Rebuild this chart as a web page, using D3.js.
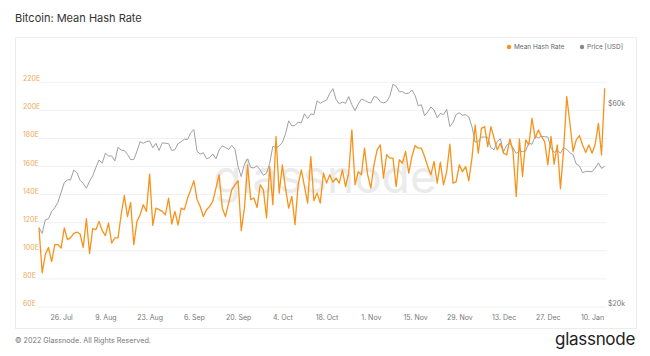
<!DOCTYPE html>
<html><head><meta charset="utf-8">
<script src="https://cdn.jsdelivr.net/npm/d3@7"></script>
<style>
html,body{margin:0;padding:0;background:#fff;}
svg{display:block;font-family:Inter,"Open Sans",sans-serif;}
</style></head><body>
<svg id="c" width="650" height="356"></svg>
<script>
// ---- data (daily, 2021-07-19 .. 2022-01-14) ----
const startDate = "2021-07-19";
const hashRate = [
 116,84,97,102,92,104,104,101.6,116,107.6,109,112,113,111.6,102,122.5,97.6,115.4,114.7,120.6,
 114,110.4,119.4,105.2,108.8,108.8,125.3,139,124,134,104,120.6,125.3,132.4,127.7,154.2,117.7,130,128.9,127.7,
 125.3,137.2,118.7,127.7,118,130,
 129,137,143,149.5,136.2,131.2,124.1,128.9,131.2,134.8,144.3,153.7,130,124,133.6,143,146.6,149.5,114,130,
 160.8,136,137.2,130.5,146.6,143,123,159.6,132.4,181,140.7,160.8,144.3,130,138.4,118.2,146.6,157.3,145.5,133.6,
 166.7,135.3,140.7,
 133.6,154.9,147.8,153.7,148.5,151.4,147.8,157.3,145.4,154.9,185.7,146.6,156,153.7,172.7,153.7,144.3,160.8,171.5,175,
 151.4,168,165.6,165.6,145.4,164.4,162,170.3,154.9,166.8,174.6,172.7,172.7,166.8,159.6,153.7,163.2,147.8,162.7,146.6,
 156,175.5,147.8,148.9,160.8,156,159.6,149.5,
 165.6,189.2,169.1,186.8,188,173.8,188,179.8,171.5,176.2,169.1,167.9,179.3,170.3,138.3,179.3,152.5,178.6,175,194,
 179.8,185.7,181,177.4,160.8,181,161.3,175,143.8,171.5,209.3,190.4,170.3,178.6,181.7,175,169.6,175,169.1,175.5,
 190.4,167.9,215.3
];
const priceUsdK = [
 30.8,29.8,32.1,32.3,33.6,34.3,35.4,37.3,39.4,40.0,40.0,42.2,41.6,
 39.9,39.2,38.2,39.7,40.9,42.8,44.6,43.8,46.3,45.6,45.6,44.4,47.8,47.1,47.0,46.0,44.7,44.7,46.8,49.3,48.9,49.3,49.5,47.7,48.9,47.0,49.0,48.9,48.8,47.0,47.2,
 48.8,49.3,50.0,49.9,51.8,52.7,46.8,46.1,46.4,44.9,45.2,46.1,44.9,47.1,48.2,47.8,47.3,48.3,47.3,43.0,40.7,43.6,44.9,42.8,42.7,43.2,42.2,41.0,41.5,43.8,
 48.1,47.7,48.2,49.1,51.5,55.3,53.8,53.9,54.9,54.7,57.5,56.0,57.4,57.3,61.7,60.9,61.5,62.0,64.3,66.0,62.2,60.7,61.3,60.9,63.2,60.4,58.5,60.6,62.3,61.9,61.3,
 61.0,63.2,62.9,61.4,61.0,61.5,63.3,67.6,66.9,64.9,64.9,64.2,64.4,65.5,63.6,60.1,60.4,56.9,58.1,59.7,58.7,56.3,57.6,57.2,58.9,53.6,54.8,57.3,57.8,57.0,
 57.2,56.5,53.6,49.2,49.4,50.6,50.6,50.5,47.7,47.2,49.4,50.1,46.7,48.4,48.9,47.7,46.2,46.9,46.7,46.9,49.0,48.6,50.8,50.4,50.8,50.7,50.6,47.6,46.5,47.1,46.3,
 47.7,47.3,46.4,45.9,43.6,43.2,41.6,41.9,41.9,41.8,42.7,43.9,42.6,43.1
];
const hashTicks = [60,80,100,120,140,160,180,200,220];
const priceTicks = [20,60];
const dateTicks = ["2021-07-26","2021-08-09","2021-08-23","2021-09-06","2021-09-20","2021-10-04","2021-10-18","2021-11-01","2021-11-15","2021-11-29","2021-12-13","2021-12-27","2022-01-10"];
const seriesNames = ["Mean Hash Rate","Price [USD]"];

// ---- chart ----
const svg = d3.select("#c");
const parse = d3.timeParse("%Y-%m-%d");
const t0 = parse(startDate);
const dates = hashRate.map((_, i) => d3.timeDay.offset(t0, i));
const hashColor = "#f7931a", priceColor = "#a0a0a0";

svg.append("rect").attr("x",0).attr("y",0).attr("width",650).attr("height",356).attr("fill","#fff");
svg.append("rect").attr("x",15.5).attr("y",37.5).attr("width",621).attr("height",291)
  .attr("fill","#fff").attr("stroke","#ececec");

svg.append("text").attr("x",15).attr("y",22).attr("font-size",11).attr("fill","#333")
  .text("Bitcoin: Mean Hash Rate");

const left = 38, right = 607;
const x = d3.scaleTime().domain([t0, dates[dates.length-1]]).range([39, 604.7]);
const y = d3.scaleLinear().domain([60,220]).range([306.5, 81.7]);
const yP = d3.scaleLog().domain([20,60]).range([306, 106]);

// grid
svg.append("g").attr("transform",`translate(${left},0)`)
  .call(d3.axisLeft(y).tickValues(hashTicks).tickSize(-(right-left)).tickFormat(""))
  .call(g => g.select(".domain").remove())
  .call(g => g.selectAll("line").attr("stroke","#f0f0f0"));

// watermark
svg.append("text").attr("x",325).attr("y",193).attr("text-anchor","middle")
  .attr("font-size",46).attr("fill","#ebebeb").attr("font-family","Inter, 'Open Sans', sans-serif")
  .text("glassnode");

// left axis labels
svg.append("g").attr("transform",`translate(23,0)`)
  .call(d3.axisRight(y).tickValues(hashTicks).tickSize(0).tickPadding(0).tickFormat(d => d + "E"))
  .call(g => g.select(".domain").remove())
  .call(g => g.selectAll("text").attr("font-size",7).attr("fill","#eda95c")
     .attr("dy",null).attr("y",-1).attr("font-family","Inter, 'Open Sans', sans-serif"));

// right axis labels
svg.append("g").attr("transform",`translate(608,0)`)
  .call(d3.axisRight(yP).tickValues(priceTicks).tickSize(0).tickPadding(0).tickFormat(d => "$" + d + "k"))
  .call(g => g.select(".domain").remove())
  .call(g => g.selectAll("text").attr("font-size",7).attr("fill","#777")
     .attr("dy",null).attr("y",-1).attr("font-family","Inter, 'Open Sans', sans-serif"));

// x axis
svg.append("g").attr("transform",`translate(0,306.5)`)
  .call(d3.axisBottom(x).tickValues(dateTicks.map(parse)).tickSize(0).tickPadding(0)
     .tickFormat(d3.timeFormat("%-d. %b")))
  .call(g => g.select(".domain").remove())
  .call(g => g.selectAll("text").attr("font-size",7).attr("fill","#777")
     .attr("dy",null).attr("y",13.5).attr("font-family","Inter, 'Open Sans', sans-serif"));

// lines
svg.append("path").datum(priceUsdK)
  .attr("fill","none").attr("stroke",priceColor).attr("stroke-width",1)
  .attr("d", d3.line().x((d,i)=>x(dates[i])).y(d=>yP(d)));
svg.append("path").datum(hashRate)
  .attr("fill","none").attr("stroke",hashColor).attr("stroke-width",1.3).attr("stroke-linejoin","round")
  .attr("d", d3.line().x((d,i)=>x(dates[i])).y(d=>y(d)));

// legend
const lg = svg.append("g").attr("font-size",6.5).attr("fill","#666");
const legendItems = [{name:seriesNames[0], color:hashColor, x:509},{name:seriesNames[1], color:"#888", x:582}];
legendItems.forEach(it => {
  lg.append("circle").attr("cx",it.x).attr("cy",47).attr("r",2.2).attr("fill",it.color);
  lg.append("text").attr("x",it.x+5).attr("y",49.3).text(it.name);
});

// footer
svg.append("text").attr("x",15).attr("y",343).attr("font-size",7.2).attr("fill","#777")
  .text("© 2022 Glassnode. All Rights Reserved.");
svg.append("text").attr("x",635).attr("y",345).attr("text-anchor","end").attr("font-size",17)
  .attr("fill","#222").attr("letter-spacing",-0.3).text("glassnode");
</script>
</body></html>
